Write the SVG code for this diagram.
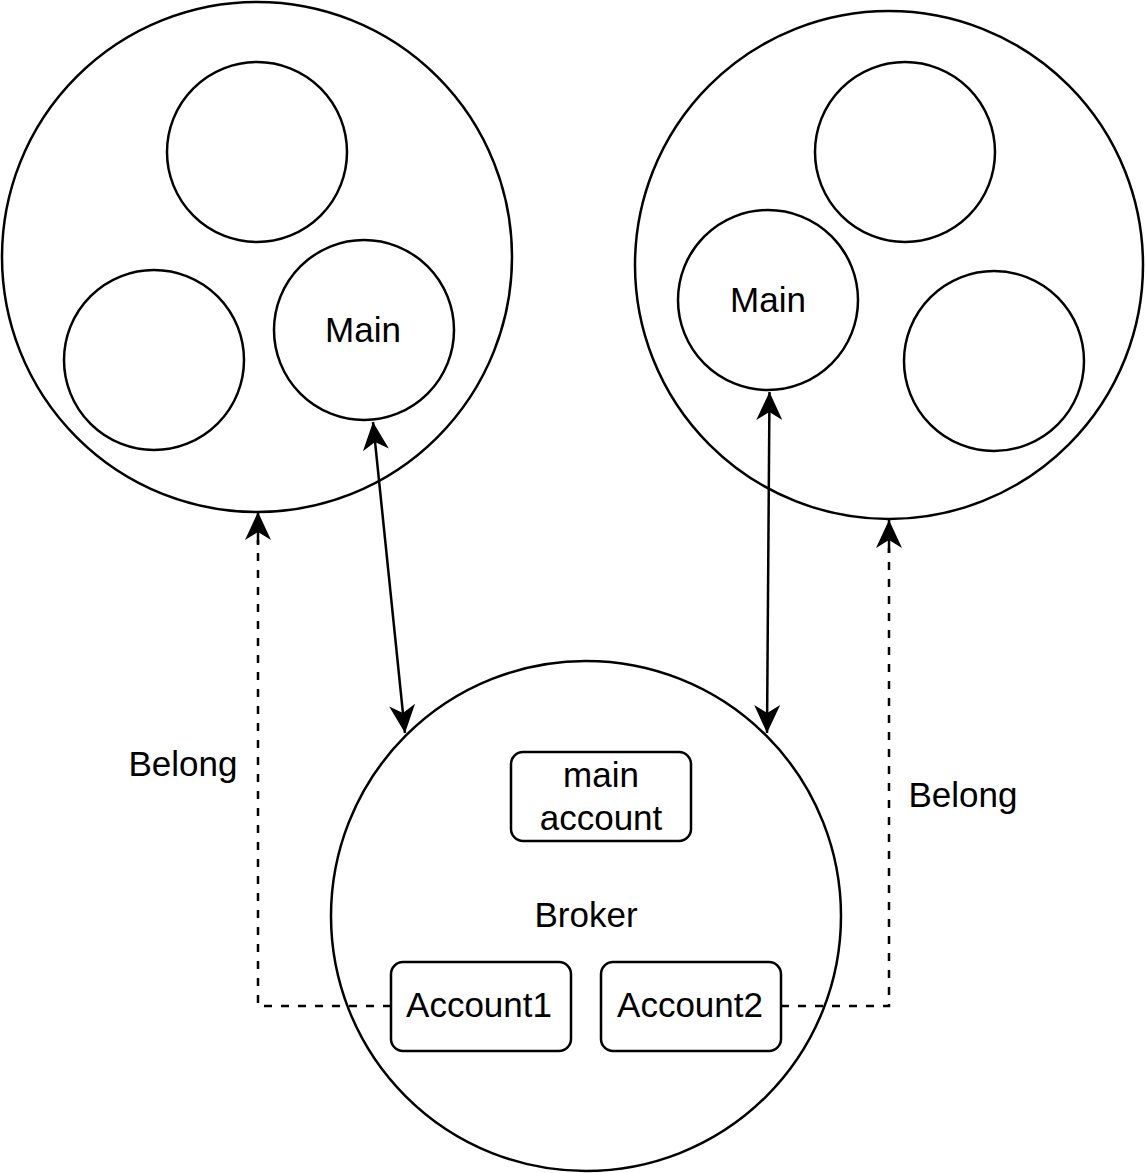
<svg xmlns="http://www.w3.org/2000/svg" width="1146" height="1173" viewBox="0 0 1146 1173">
<style>
.c{fill:#fff;stroke:#000;stroke-width:2.5}
.b{fill:#fff;stroke:#000;stroke-width:2.5}
.t{font-family:"Liberation Sans",Arial,sans-serif;font-size:35px;fill:#000;text-anchor:middle}
.e{fill:none;stroke:#000;stroke-width:2.5}
.d{stroke-dasharray:8 9}
</style>
<defs>
<marker id="ah" viewBox="-30 -15 32 30" refX="0" refY="0" markerWidth="32" markerHeight="30" markerUnits="userSpaceOnUse" orient="auto-start-reverse">
<path d="M0,0 L-28,-13 L-20,0 L-28,13 Z" fill="#000"/>
</marker>
</defs>
<g id="cluster-left">
<circle class="c" cx="257" cy="257" r="255"/>
</g>
<g id="left-top"><circle class="c" cx="257" cy="152" r="90"/></g>
<g id="left-left"><circle class="c" cx="154" cy="360" r="90"/></g>
<g id="left-main"><circle class="c" cx="364" cy="330" r="90"/><text class="t" x="363" y="342">Main</text></g>
<g id="cluster-right">
<circle class="c" cx="889" cy="265" r="254"/>
</g>
<g id="right-top"><circle class="c" cx="905" cy="152" r="90"/></g>
<g id="right-main"><circle class="c" cx="768" cy="300" r="90"/><text class="t" x="768" y="312">Main</text></g>
<g id="right-right"><circle class="c" cx="994" cy="361" r="90"/></g>
<g id="broker">
<circle class="c" cx="586" cy="916" r="255"/>
<text class="t" x="586" y="927">Broker</text>
</g>
<g id="main-account">
<rect class="b" x="511" y="752" width="180" height="89" rx="12"/>
<text class="t" x="601" y="787">main</text>
<text class="t" x="601" y="830">account</text>
</g>
<g id="account1">
<rect class="b" x="391" y="962" width="180" height="89" rx="12"/>
<text class="t" x="479" y="1017">Account1</text>
</g>
<g id="account2">
<rect class="b" x="601" y="962" width="180" height="89" rx="12"/>
<text class="t" x="690" y="1017">Account2</text>
</g>
<g id="connectors">
<line class="e" x1="373" y1="422" x2="405" y2="733" marker-start="url(#ah)" marker-end="url(#ah)"/>
<line class="e" x1="769.5" y1="392" x2="767" y2="733" marker-start="url(#ah)" marker-end="url(#ah)"/>
<polyline class="e d" points="391,1006 258,1006 258,540"/>
<line class="e" x1="258" y1="545" x2="258" y2="512" marker-end="url(#ah)"/>
<polyline class="e d" points="781,1006 889,1006 889,548"/>
<line class="e" x1="889" y1="553" x2="889" y2="520" marker-end="url(#ah)"/>
<text class="t" x="183" y="776">Belong</text>
<text class="t" x="963" y="807">Belong</text>
</g>
</svg>
